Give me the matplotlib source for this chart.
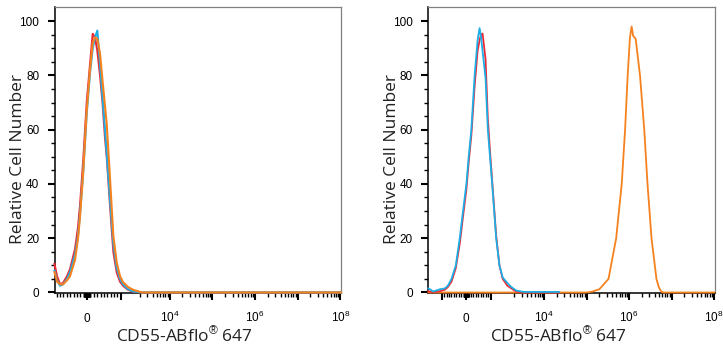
import matplotlib
matplotlib.use("Agg")
import matplotlib.pyplot as plt
from matplotlib.ticker import FixedLocator, FixedFormatter, NullFormatter

plt.rcParams['mathtext.fontset'] = 'custom'
plt.rcParams['mathtext.rm'] = 'Liberation Sans'
plt.rcParams['mathtext.it'] = 'Liberation Sans'
plt.rcParams['font.family'] = ['Liberation Sans', 'DejaVu Sans']

# ---------------- data ----------------
# Left panel: common fluorescence grid (data units)
left_x = [-965, -890, -801, -712, -594, -505, -356, -267, -208, -110, -9, 89, 169,
          237, 306, 386, 460, 534, 585, 683, 781, 881, 979, 1068, 1217, 1389, 2256, 1.04e8]
left_red = [10.5, 6, 3, 3.5, 6, 8.6, 16, 24, 32, 49, 70, 84, 95.3,
            94, 89, 80, 70, 57, 50, 32, 15, 7.4, 4, 2.5, 1, 0.3, 0, 0]
left_cyan = [8, 4.5, 2.5, 3, 5, 7.5, 14, 21, 29, 45, 66, 81, 90,
             94, 96.5, 84, 72, 60, 51, 34, 18, 9, 5, 3, 1.2, 0.4, 0, 0]
left_orange = [7.5, 4, 3, 3, 4.5, 6, 12, 20, 28, 45, 67, 82, 92,
               94, 93.5, 88, 78, 68.6, 62, 41.7, 20.8, 11, 6, 3.8, 2, 1, 0, 0]

# Right panel
right_x = [-1548, -1479, -1357, -1194, -1072, -869, -747, -597, -422, -260, -126, 12, 106,
           215, 349, 471, 552, 613, 674, 796, 890, 979, 1068, 1231, 1365, 1499, 1690,
           1852, 2205, 3379, 22300]
right_cyan = [1.5, 1.2, 0.4, 0.8, 1.2, 1.5, 2.5, 5, 10, 20, 30, 40, 50,
              60, 80, 93, 97.4, 94, 89, 79, 60, 50, 40, 20, 10, 5.5, 3.5,
              2, 0.7, 0.2, 0.2]
right_red = [0.5, 0.3, 0.2, 0.3, 0.5, 1, 2, 4, 9, 18, 28, 38, 48,
             58, 76, 89, 93, 95, 95.4, 86, 64, 52, 41, 21, 10, 5, 2.5,
             1.5, 0.3, 0, 0]
right_orange_x = [-1548, 1.0e5, 1.34e5, 2.0e5, 3.28e5, 4.97e5, 6.72e5, 8.06e5, 9.28e5,
                  1.05e6, 1.15e6, 1.25e6, 1.43e6, 1.81e6, 2.28e6, 2.72e6, 3.38e6,
                  4.42e6, 5.0e6, 5.77e6, 6.5e6, 1.03e8]
right_orange = [0, 0, 0.3, 1.2, 5, 20, 40, 60, 80,
                94, 98, 94.5, 93.5, 80, 60, 40, 20,
                5, 2, 0.3, 0, 0]

y_ticks = [0, 20, 40, 60, 80, 100]
x_major = [-1e3, 0, 1e3, 1e4, 1e5, 1e6, 1e7, 1e8]
x_major_labels = ['', '0', '', '$10^4$', '', '$10^6$', '', '$10^8$']
xlabel = 'CD55-ABflo$^{\\mathrm{®}}$ 647'
ylabel = 'Relative Cell Number'

RED = '#ec2a36'
CYAN = '#1eaee6'
ORANGE = '#f5821f'

W, H = 723, 350
fig = plt.figure(figsize=(W / 100, H / 100), dpi=100)

bottom_px, top_px = 293.3, 6.7
ax1 = fig.add_axes([54.5 / W, (H - bottom_px) / H, (341 - 54.5) / W, (bottom_px - top_px) / H])
ax2 = fig.add_axes([428.3 / W, (H - bottom_px) / H, (714.5 - 428.3) / W, (bottom_px - top_px) / H])

minor = []
for k in range(1, 8):
    for j in range(1, 10):
        v = j * 10 ** k
        if v not in x_major:
            minor.append(v)
        if -v not in x_major:
            minor.append(-v)
minor.sort()


def style(ax, linthresh, linscale, xmin, xmax):
    ax.set_xscale('symlog', linthresh=linthresh, linscale=linscale, base=10)
    ax.set_xlim(xmin, xmax)
    ax.set_ylim(-0.3, 105.3)
    ax.xaxis.set_major_locator(FixedLocator(x_major))
    ax.xaxis.set_major_formatter(FixedFormatter(x_major_labels))
    ax.xaxis.set_minor_locator(FixedLocator([m for m in minor if xmin < m < xmax]))
    ax.xaxis.set_minor_formatter(NullFormatter())
    ax.yaxis.set_major_locator(FixedLocator(y_ticks))
    ax.yaxis.set_minor_locator(FixedLocator(list(range(5, 105, 5))))
    ax.tick_params(axis='both', which='major', direction='out', length=5, width=1.5,
                   labelsize=8.5, color='black')
    ax.tick_params(axis='both', which='minor', direction='out', length=3, width=1.0,
                   color='black')
    ax.tick_params(axis='x', which='major', pad=16)
    ax.tick_params(axis='y', which='major', pad=6)
    for s in ['top', 'right']:
        ax.spines[s].set_color('#808080')
        ax.spines[s].set_linewidth(0.9)
    for s in ['left', 'bottom']:
        ax.spines[s].set_color('black')
        ax.spines[s].set_linewidth(1.1)
    ax.set_xlabel(xlabel, fontsize=12.5, family=['Open Sans', 'DejaVu Sans'], color='#222222')
    ax.set_ylabel(ylabel, fontsize=12.5, family=['Open Sans', 'DejaVu Sans'], color='#222222')
    ax.xaxis.set_label_coords(0.455, -0.112)
    ax.yaxis.set_label_coords(-0.098, 0.468)


style(ax1, 1350, 0.96, -965, 1.04e8)
ax1.plot(left_x, left_red, color=RED, lw=1.5, zorder=3, clip_on=False)
ax1.plot(left_x, left_cyan, color=CYAN, lw=1.5, zorder=4, clip_on=False)
ax1.plot(left_x, left_orange, color=ORANGE, lw=1.5, zorder=5, clip_on=False)

style(ax2, 1970, 1.02, -1548, 1.03e8)
ax2.plot(right_orange_x, right_orange, color=ORANGE, lw=1.3, zorder=3, clip_on=False)
ax2.plot(right_x, right_red, color=RED, lw=1.3, zorder=4, clip_on=False)
ax2.plot(right_x, right_cyan, color=CYAN, lw=1.3, zorder=5, clip_on=False)

for ax in (ax1, ax2):
    for lab in ax.get_xticklabels():
        lab.set_verticalalignment('baseline')

fig.savefig('out.png', dpi=100)
